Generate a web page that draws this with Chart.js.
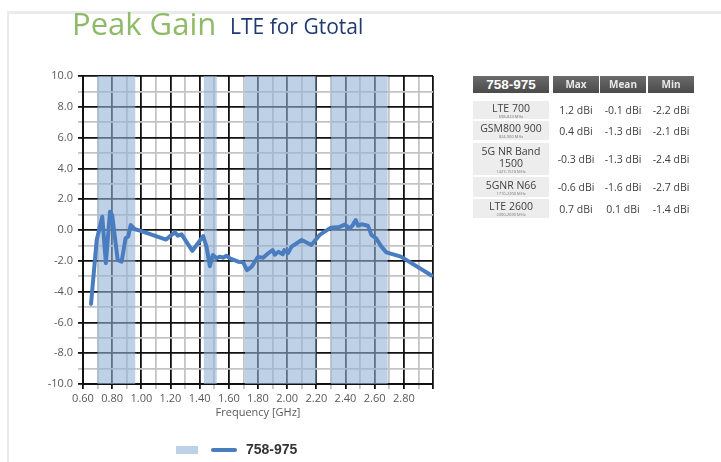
<!DOCTYPE html>
<html>
<head>
<meta charset="utf-8">
<script src="https://cdn.jsdelivr.net/npm/chart.js@4/dist/chart.umd.min.js"></script>
<style>
  html, body { margin:0; padding:0; background:#fff; }
  body { width:721px; height:462px; position:relative; overflow:hidden; font-family:"Open Sans", sans-serif; }
  .bt { position:absolute; background:#ebebeb; }
  #c { position:absolute; left:0; top:0; }
  #t1 { position:absolute; left:72px; top:2px; font-size:31px; color:#8fbb68; white-space:nowrap; }
  #t2 { position:absolute; left:230px; top:12px; font-size:21px; color:#1f3a73; white-space:nowrap; }
  #xt { position:absolute; left:158px; width:200px; top:404px; text-align:center; font-size:11px; color:#595959; }
  .hd { position:absolute; top:76px; height:17px; background:linear-gradient(#6b6b6b,#4a4a4a); color:#e8e8e8; font-weight:bold; text-align:center; line-height:17px; font-size:10px; }
  .lc { position:absolute; left:473px; width:76px; background:#ededed; color:#404040; text-align:center; display:flex; flex-direction:column; justify-content:center; }
  .lc .m { font-size:10.5px; line-height:12px; }
  .lc .s { font-size:4px; line-height:5px; color:#777; }
  .vc { position:absolute; width:46px; text-align:center; color:#404040; font-size:10.5px; display:flex; align-items:center; justify-content:center; }
  #leg { position:absolute; top:440px; left:0; width:721px; height:20px; }
</style>
</head>
<body>
<div class="bt" style="left:7px;top:11px;width:714px;height:3px;"></div>
<div class="bt" style="left:7px;top:11px;width:2px;height:451px;"></div>
<canvas id="c" width="721" height="462"></canvas>
<div id="t1">Peak Gain</div>
<div id="t2">LTE for Gtotal</div>
<div id="xt">Frequency [GHz]</div>
<div id="tbl" style="position:absolute;left:0;top:0;width:0;height:0;"></div>
<div id="leg">
  <div style="position:absolute;left:176px;top:6px;width:22px;height:8px;background:#bfd1e7;"></div>
  <div style="position:absolute;left:211px;top:8px;width:26px;height:4px;border-radius:2px;background:#4a7dbf;"></div>
  <div style="position:absolute;left:246px;top:1px;font-family:'Liberation Sans',Arial,sans-serif;font-weight:bold;font-size:14px;color:#333;">758-975</div>
</div>
<script>
// ---- data ----
const freqGHz = [0.655,0.694,0.732,0.757,0.785,0.80,0.838,0.865,0.892,0.91,0.927,0.956,0.99,1.17,1.21,1.23,1.25,1.276,1.35,1.424,1.447,1.47,1.49,1.516,1.538,1.56,1.584,1.607,1.664,1.698,1.725,1.755,1.775,1.80,1.835,1.87,1.90,1.915,1.94,1.97,1.98,2.006,2.03,2.10,2.166,2.223,2.30,2.36,2.395,2.43,2.45,2.47,2.486,2.51,2.554,2.577,2.61,2.646,2.68,2.78,2.99];
const gainDbi = [-4.8,-0.65,0.86,-2.15,1.19,0.97,-1.95,-2.05,-0.53,-0.43,0.32,0.05,-0.04,-0.62,-0.3,-0.15,-0.37,-0.28,-1.35,-0.4,-1.1,-2.35,-1.62,-1.84,-1.73,-1.8,-1.67,-1.84,-2.06,-2.1,-2.6,-2.4,-2.1,-1.75,-1.8,-1.51,-1.3,-1.6,-1.41,-1.58,-1.3,-1.5,-1.08,-0.65,-0.97,-0.32,0.15,0.2,0.35,0.11,0.32,0.65,0.28,0.37,0.28,-0.32,-0.54,-1.08,-1.45,-1.73,-2.95];
const bandStart = [0.698, 1.427, 1.710, 2.300];
const bandEnd   = [0.960, 1.518, 2.200, 2.690];
const seriesName = "758-975";
const tableHeader = ["758-975", "Max", "Mean", "Min"];
const rowLabels = [["LTE 700"], ["GSM800 900"], ["5G NR Band", "1500"], ["5GNR N66"], ["LTE 2600"]];
const rowSub = ["698-824 MHz", "824-960 MHz", "1427-1518 MHz", "1710-2200 MHz", "2300-2690 MHz"];
const maxVals  = ["1.2 dBi", "0.4 dBi", "-0.3 dBi", "-0.6 dBi", "0.7 dBi"];
const meanVals = ["-0.1 dBi", "-1.3 dBi", "-1.3 dBi", "-1.6 dBi", "0.1 dBi"];
const minVals  = ["-2.2 dBi", "-2.1 dBi", "-2.4 dBi", "-2.7 dBi", "-1.4 dBi"];

// ---- table ----
const tbl = document.getElementById('tbl');
const hdX = [[473,76],[553,46],[600,46],[648,46]];
tableHeader.forEach((h,i)=>{
  const d = document.createElement('div');
  d.className = 'hd';
  d.style.left = hdX[i][0]+'px'; d.style.width = hdX[i][1]+'px';
  if (i===0) { d.style.fontSize='13.5px'; d.style.fontFamily="'Liberation Sans',Arial,sans-serif"; d.style.color='#fff'; }
  d.textContent = h;
  tbl.appendChild(d);
});
const rowTop = [101,121,143,177,199];
const rowH = [18,19,32,20,19];
const valX = [553,600,648];
rowLabels.forEach((lab,r)=>{
  const c = document.createElement('div');
  c.className='lc'; c.style.top=rowTop[r]+'px'; c.style.height=rowH[r]+'px';
  lab.forEach(t=>{ const m=document.createElement('div'); m.className='m'; m.textContent=t; c.appendChild(m); });
  const s=document.createElement('div'); s.className='s'; s.textContent=rowSub[r]; c.appendChild(s);
  tbl.appendChild(c);
  [maxVals,meanVals,minVals].forEach((arr,k)=>{
    const v=document.createElement('div'); v.className='vc';
    v.style.left=valX[k]+'px'; v.style.top=rowTop[r]+'px'; v.style.height=rowH[r]+'px';
    v.textContent=arr[r]; tbl.appendChild(v);
  });
});

// ---- chart ----
function isMajorX(c){ return !c.tick || Math.round(c.tick.value*10)%2===0; }
function isMajorY(c){ return !c.tick || Math.round(c.tick.value)%2===0; }
const tickFont = {family:"'Open Sans', sans-serif", size:11};
const canvas = document.getElementById('c');

function build(gridZ) {
  const datasets = [{
    label: seriesName,
    data: freqGHz.map((f,i)=>({x:f, y:gainDbi[i]})),
    borderColor: '#4a7dbf',
    borderWidth: 4,
    pointRadius: 0,
    tension: 0,
    fill: false,
    order: 0,
    borderCapStyle: 'round',
    borderJoinStyle: 'round'
  }];
  bandStart.forEach((s,i)=>{
    datasets.push({
      label: 'band'+i,
      data: [{x:s, y:10}, {x:bandEnd[i], y:10}],
      borderWidth: 0,
      backgroundColor: gridZ > 0 ? 'rgba(149,179,215,0.6)' : 'rgba(149,179,215,0.6)',
      pointRadius: 0,
      fill: 'start',
      order: 1
    });
  });
  return new Chart(canvas, {
    type: 'line',
    data: { datasets },
    options: {
      responsive: false,
      animation: false,
      layout: { padding: { left:0, top:76, right:288, bottom:38 } },
      plugins: { legend:{display:false}, tooltip:{enabled:false} },
      scales: {
        x: {
          type:'linear', min:0.6, max:3.0,
          afterFit: s => { s.height = 40; },
          ticks: { stepSize:0.1, autoSkip:false, maxRotation:0, padding:3, color:'#595959', font:tickFont,
            callback: v => { const k=Math.round(v*10); return (k%2===0 && k<30) ? (k/10).toFixed(2) : ''; } },
          grid: { tickLength:5, lineWidth:1.8, z:gridZ,
            color: c => isMajorX(c) ? '#111' : '#c4c4c4' },
          border: { color:'#111', width:2 }
        },
        y: {
          min:-10, max:10,
          afterFit: s => { s.width = 83; },
          ticks: { stepSize:1, autoSkip:false, padding:5, color:'#595959', font:tickFont,
            callback: v => (Math.round(v)%2===0) ? v.toFixed(1) : '' },
          grid: { tickLength:5, lineWidth:1.8, z:gridZ,
            color: c => isMajorY(c) ? '#111' : '#c4c4c4' },
          border: { color:'#111', width:2 }
        }
      }
    }
  });
}

let chart = build(-1);
try {
  const xs = chart.scales.x, ys = chart.scales.y;
  const px = chart.ctx.getImageData(Math.round(xs.getPixelForValue(1.25)), Math.round(ys.getPixelForValue(6)), 1, 1).data;
  if (px[0] > 150 && px[1] > 150) { chart.destroy(); chart = build(1); }
} catch (e) {}
</script>
</body>
</html>
